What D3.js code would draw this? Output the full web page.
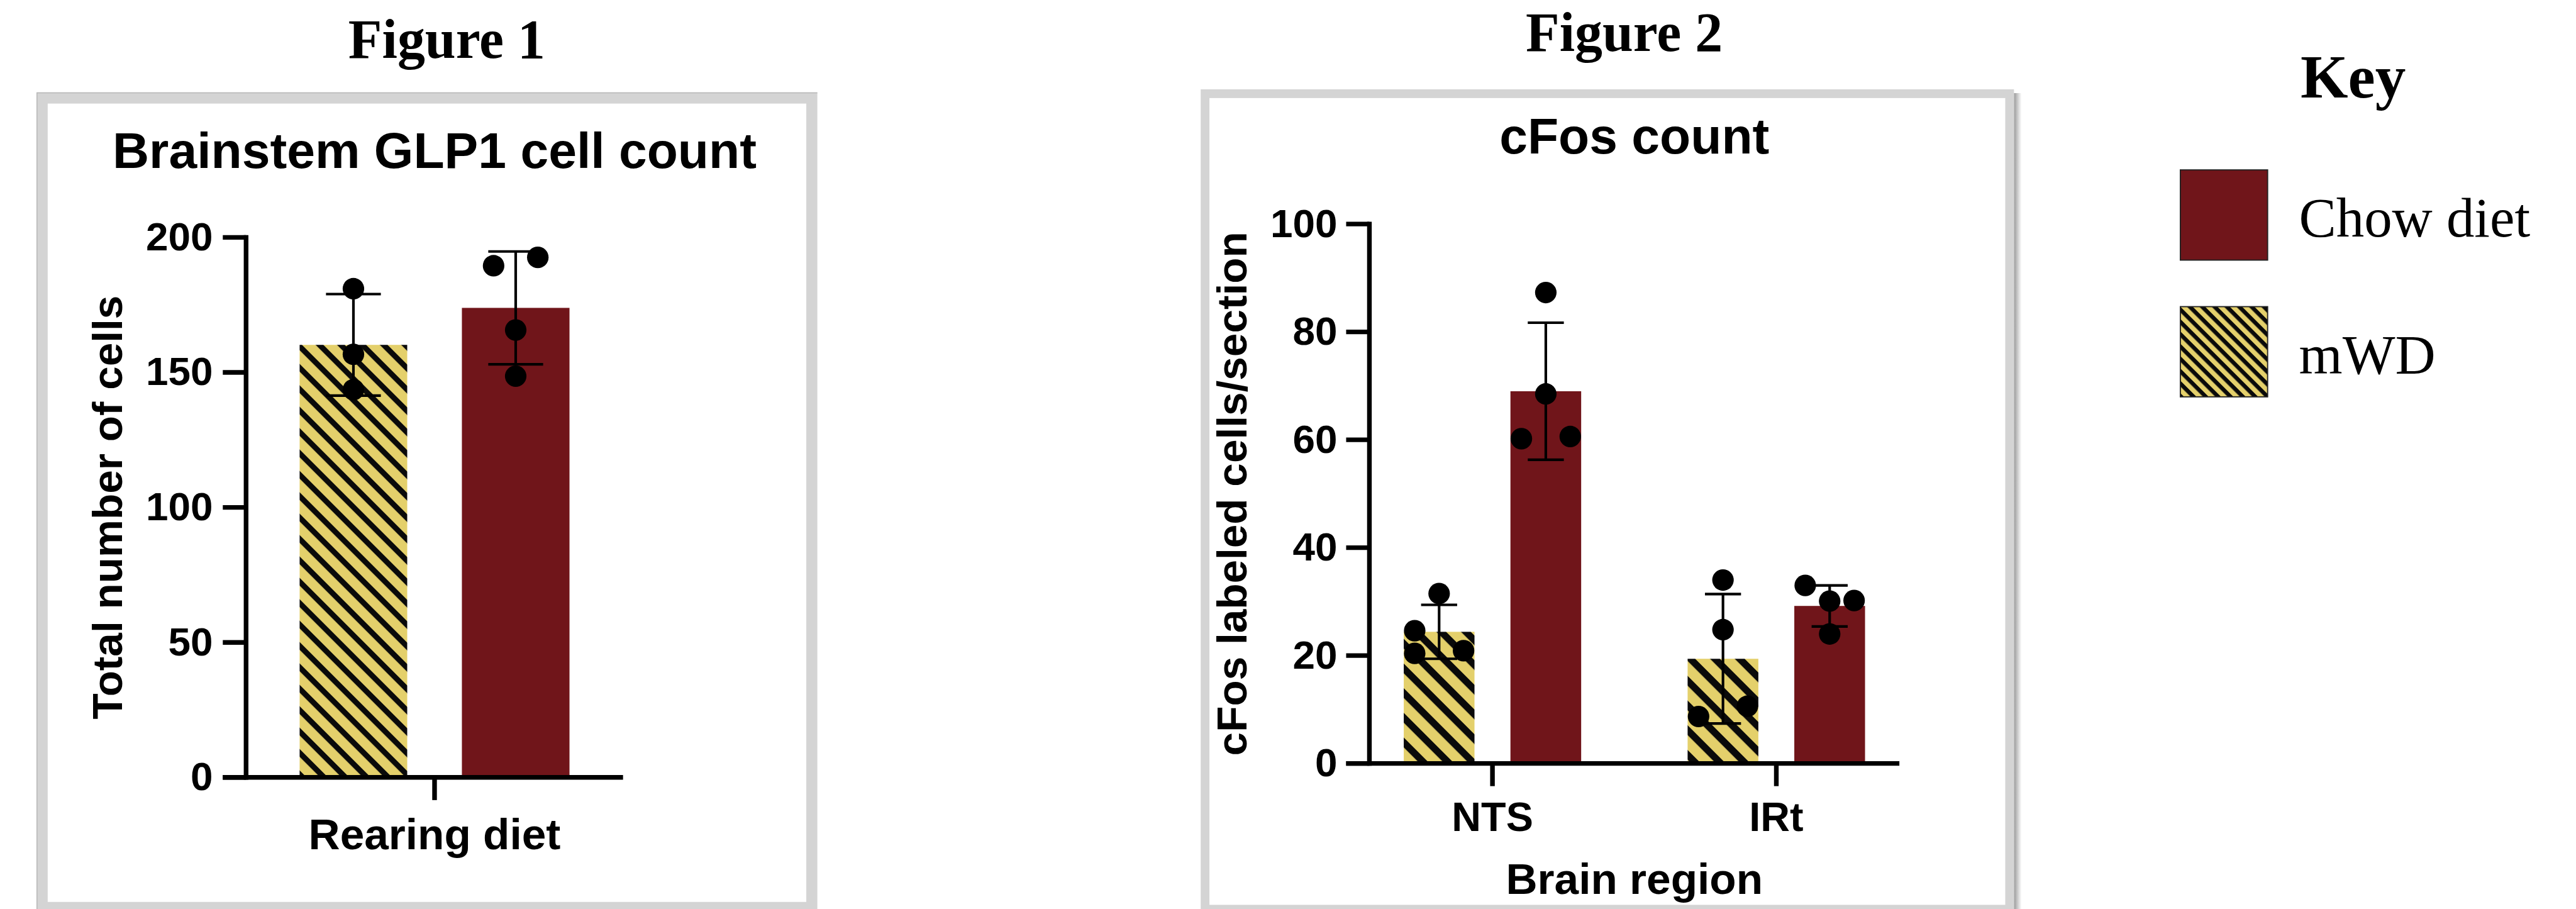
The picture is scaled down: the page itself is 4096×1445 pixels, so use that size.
<!DOCTYPE html>
<html>
<head>
<meta charset="utf-8">
<script src="https://cdn.jsdelivr.net/npm/d3@7"></script>
<style>
body { margin: 0; background: #fff; }
svg text { font-family: "Liberation Sans", Arial, sans-serif; font-weight: bold; fill: #000; }
svg text.serif { font-family: "Liberation Serif", "Times New Roman", serif; }
</style>
</head>
<body>
<svg id="main_svg" width="4096" height="1445"></svg>
<script>
// ---- Figure 1 data
var fig1Groups = ["mWD", "Chow diet"];
var fig1Category = ["Rearing diet"];
var fig1Means = [160.2, 173.9];
var fig1SD = [18.8, 20.9];
var fig1Points = [[181.0, 156.7, 143.6], [189.5, 192.6, 165.7, 148.6]];
var fig1Spread = [[0, 0, 0], [-1, 1, 0, 0]];
var fig1Ticks = [0, 50, 100, 150, 200];

// ---- Figure 2 data
var fig2Regions = ["NTS", "IRt"];
var fig2Groups = ["mWD", "Chow diet"];
var fig2Means = [[24.4, 69.0], [19.4, 29.2]];
var fig2SD = [[5.0, 12.7], [12.0, 3.8]];
var fig2Points = [
	[[24.6, 20.4, 31.5, 20.9], [87.3, 68.5, 60.2, 60.6]],
	[[34.0, 24.8, 8.7, 10.6], [33.0, 30.1, 30.2, 24.0]]
];
var fig2Spread = [
	[[-1, -1, 0, 1], [0, 0, -1, 1]],
	[[0, 0, -1, 1], [-1, 0, 1, 0]]
];
var fig2Ticks = [0, 20, 40, 60, 80, 100];

var legendLabels = ["Chow diet", "mWD"];

// ---- styles
var red = "#70151a", yellow = "#e4d06b", frameGray = "#d4d4d4";
var axisW = 8, errW = 4.5, dotR = 18.5, tickLen = 40;

var svg = d3.select("#main_svg");
var defs = svg.append("defs");

function hatch(id, period, black) {
	var p = defs.append("pattern")
		.attr("id", id)
		.attr("patternUnits", "userSpaceOnUse")
		.attr("width", period).attr("height", period)
		.attr("patternTransform", "rotate(45)");
	p.append("rect").attr("width", period).attr("height", period).attr("fill", yellow);
	p.append("rect").attr("width", period).attr("height", black).attr("fill", "#0a0a0a");
}
hatch("hatch1", 26, 9.5);
hatch("hatch2", 30, 12);
hatch("hatchKey", 15, 7);

var grad = defs.append("linearGradient").attr("id", "shadow");
grad.append("stop").attr("offset", "0").attr("stop-color", "#9a9a9a");
grad.append("stop").attr("offset", "1").attr("stop-color", "#ffffff");

function fillFor(group, hatchId) {
	return group == "mWD" ? "url(#" + hatchId + ")" : red;
}

// everything drawn in reference pixels, then shrunk to the window
var root = svg.append("g").attr("transform", "scale(0.925)");

// frames
root.append("rect").attr("x", 3462).attr("y", 160).attr("width", 13).attr("height", 1420)
	.attr("fill", "url(#shadow)");
root.append("rect")
	.attr("x", 72.5).attr("y", 168.5).attr("width", 1323).attr("height", 1391)
	.attr("fill", "none").attr("stroke", frameGray).attr("stroke-width", 19);
root.append("path").attr("d", "M63.5,1570V159.5H1405")
	.attr("fill", "none").attr("stroke", "#b5b5b5").attr("stroke-width", 1.5);
root.append("rect")
	.attr("x", 2071.5).attr("y", 161).attr("width", 1383).attr("height", 1401.5)
	.attr("fill", "none").attr("stroke", frameGray).attr("stroke-width", 15);

root.append("text").attr("class", "serif").attr("x", 768).attr("y", 100)
	.attr("text-anchor", "middle").style("font-size", "95px").text("Figure 1");
root.append("text").attr("class", "serif").attr("x", 2792).attr("y", 88)
	.attr("text-anchor", "middle").style("font-size", "95px").text("Figure 2");

function styleAxis(a, fontSize) {
	a.attr("font-size", null).attr("font-family", null);
	a.selectAll(".tick line").attr("stroke", "#000").attr("stroke-width", axisW);
	a.selectAll(".tick text").style("font-size", fontSize + "px").attr("fill", "#000");
}

function drawY(panel, y, ticks, x0, pad) {
	var a = panel.append("g")
		.attr("transform", "translate(" + x0 + ",0)")
		.call(d3.axisLeft(y).tickValues(ticks).tickSize(tickLen).tickPadding(pad).tickSizeOuter(0).offset(0));
	a.select(".domain").attr("stroke", "#000").attr("stroke-width", axisW).attr("stroke-linecap", "square");
	styleAxis(a, 69);
}

function drawX(panel, xs, y, pad, fontSize) {
	var base = y(0);
	var a = panel.append("g")
		.attr("transform", "translate(0," + base + ")")
		.call(d3.axisBottom(xs).tickSize(39).tickPadding(pad).tickSizeOuter(0).offset(0));
	a.select(".domain").remove();
	styleAxis(a, fontSize);
	panel.append("line")
		.attr("x1", xs.range()[0] - tickLen).attr("x2", xs.range()[1])
		.attr("y1", base).attr("y2", base)
		.attr("stroke", "#000").attr("stroke-width", axisW);
}

function drawGroup(panel, cx, bw, y, mean, sd, pts, spread, step, fill) {
	panel.append("rect")
		.attr("x", cx - bw / 2).attr("width", bw)
		.attr("y", y(mean)).attr("height", y(0) - y(mean))
		.attr("fill", fill);
	var cap = bw * 0.51;
	var e = panel.append("g").attr("stroke", "#000").attr("stroke-width", errW);
	e.append("line").attr("x1", cx).attr("x2", cx).attr("y1", y(mean + sd)).attr("y2", y(mean - sd));
	[mean + sd, mean - sd].forEach(function(v) {
		e.append("line").attr("x1", cx - cap / 2).attr("x2", cx + cap / 2).attr("y1", y(v)).attr("y2", y(v));
	});
	panel.selectAll(null).data(pts).enter().append("circle")
		.attr("cx", function(d, i) { return cx + spread[i] * step; })
		.attr("cy", function(d) { return y(d); })
		.attr("r", dotR)
		.attr("fill", "#000");
}

// ---- Figure 1
var p1 = root.append("g");
var y1 = d3.scaleLinear().domain([0, 200]).range([1336, 408]);
var x1 = d3.scaleBand().domain(fig1Groups).range([423, 1071]).paddingInner(0.337).paddingOuter(0.33);
var xc1 = d3.scaleBand().domain(fig1Category).range(x1.range());

fig1Groups.forEach(function(gr, i) {
	drawGroup(p1, x1(gr) + x1.bandwidth() / 2, x1.bandwidth(), y1,
		fig1Means[i], fig1SD[i], fig1Points[i], fig1Spread[i], 38, fillFor(gr, "hatch1"));
});
drawY(p1, y1, fig1Ticks, x1.range()[0], 17);
drawX(p1, xc1, y1, 31, 75);

p1.append("text")
	.attr("x", d3.mean(x1.range())).attr("y", 289)
	.attr("text-anchor", "middle").style("font-size", "87px")
	.text("Brainstem GLP1 cell count");
p1.append("text")
	.attr("transform", "translate(210," + d3.mean(y1.range()) + ") rotate(-90)")
	.attr("text-anchor", "middle").style("font-size", "73px")
	.text("Total number of cells");

// ---- Figure 2
var p2 = root.append("g");
var y2 = d3.scaleLinear().domain([0, 100]).range([1312, 385]);
var x2 = d3.scaleBand().domain(fig2Regions).range([2354, 3265]).paddingInner(0.375).paddingOuter(0.121);
var x2in = d3.scaleBand().domain(fig2Groups).range([0, x2.bandwidth()]).paddingInner(0.337);

fig2Regions.forEach(function(reg, r) {
	fig2Groups.forEach(function(gr, i) {
		drawGroup(p2, x2(reg) + x2in(gr) + x2in.bandwidth() / 2, x2in.bandwidth(), y2,
			fig2Means[r][i], fig2SD[r][i], fig2Points[r][i], fig2Spread[r][i], 42, fillFor(gr, "hatch2"));
	});
});
drawY(p2, y2, fig2Ticks, x2.range()[0], 15);
drawX(p2, x2, y2, 27, 70);

p2.append("text")
	.attr("x", d3.mean(x2.range())).attr("y", 264)
	.attr("text-anchor", "middle").style("font-size", "87px")
	.text("cFos count");
p2.append("text")
	.attr("x", d3.mean(x2.range())).attr("y", 1536)
	.attr("text-anchor", "middle").style("font-size", "75px")
	.text("Brain region");
p2.append("text")
	.attr("transform", "translate(2143," + d3.mean(y2.range()) + ") rotate(-90)")
	.attr("text-anchor", "middle").style("font-size", "73px")
	.text("cFos labeled cells/section");

// ---- Key
root.append("text").attr("class", "serif").attr("x", 4045).attr("y", 168)
	.attr("text-anchor", "middle").style("font-size", "105px").text("Key");

var legend = root.selectAll(".legend")
	.data(legendLabels)
	.enter()
	.append("g")
	.attr("class", "legend")
	.attr("transform", function(d, i) { return "translate(3748," + (292 + i * 235) + ")"; });

legend.append("rect")
	.attr("width", 150).attr("height", 155)
	.attr("fill", function(d) { return fillFor(d, "hatchKey"); })
	.attr("stroke", "#222").attr("stroke-width", 2);

legend.append("text")
	.attr("class", "serif")
	.attr("x", 204).attr("y", 115)
	.style("font-weight", "normal").style("font-size", "96px")
	.text(function(d) { return d; });
</script>
</body>
</html>
